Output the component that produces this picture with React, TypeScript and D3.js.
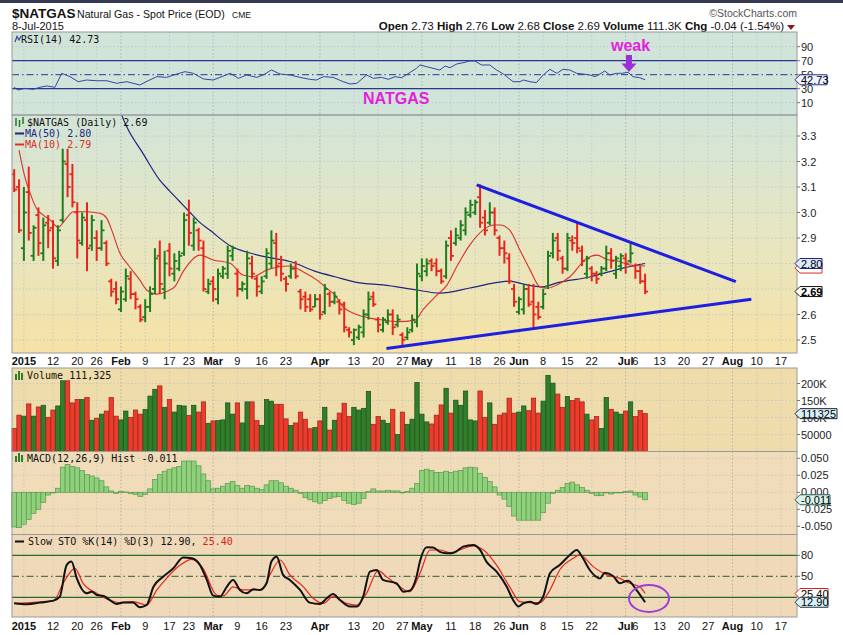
import React from 'react';
import * as d3 from 'd3';

// ---------- DATA ----------
const dates = [
  'Dec 30','Dec 31',
  'Jan 2','Jan 5','Jan 6','Jan 7','Jan 8','Jan 9','Jan 12','Jan 13','Jan 14','Jan 15','Jan 16','Jan 20','Jan 21','Jan 22','Jan 23','Jan 26','Jan 27','Jan 28','Jan 29','Jan 30',
  'Feb 2','Feb 3','Feb 4','Feb 5','Feb 6','Feb 9','Feb 10','Feb 11','Feb 12','Feb 13','Feb 17','Feb 18','Feb 19','Feb 20','Feb 23','Feb 24','Feb 25','Feb 26','Feb 27',
  'Mar 2','Mar 3','Mar 4','Mar 5','Mar 6','Mar 9','Mar 10','Mar 11','Mar 12','Mar 13','Mar 16','Mar 17','Mar 18','Mar 19','Mar 20','Mar 23','Mar 24','Mar 25','Mar 26','Mar 27','Mar 30','Mar 31',
  'Apr 1','Apr 2','Apr 6','Apr 7','Apr 8','Apr 9','Apr 10','Apr 13','Apr 14','Apr 15','Apr 16','Apr 17','Apr 20','Apr 21','Apr 22','Apr 23','Apr 24','Apr 27','Apr 28','Apr 29','Apr 30',
  'May 1','May 4','May 5','May 6','May 7','May 8','May 11','May 12','May 13','May 14','May 15','May 18','May 19','May 20','May 21','May 22','May 26','May 27','May 28','May 29',
  'Jun 1','Jun 2','Jun 3','Jun 4','Jun 5','Jun 8','Jun 9','Jun 10','Jun 11','Jun 12','Jun 15','Jun 16','Jun 17','Jun 18','Jun 19','Jun 22','Jun 23','Jun 24','Jun 25','Jun 26','Jun 29','Jun 30',
  'Jul 1','Jul 2','Jul 6','Jul 7','Jul 8'
];
const FIRST_INDEX = -2; // Dec 30 sits two sessions before Jan 2 (index 0)

const opens = [3.15,3.10,2.86,3.08,2.83,2.99,2.84,2.96,2.94,2.81,2.97,3.19,3.15,3.00,2.88,2.97,2.87,2.90,2.86,2.88,2.73,2.70,
  2.62,2.66,2.74,2.68,2.63,2.59,2.63,2.70,2.83,2.70,2.85,2.76,2.78,2.84,2.99,2.87,2.93,2.86,2.69,
  2.73,2.66,2.75,2.76,2.83,2.76,2.70,2.70,2.80,2.74,2.69,2.75,2.80,2.88,2.80,2.74,2.75,2.78,2.69,2.67,2.66,2.63,
  2.66,2.61,2.68,2.65,2.65,2.64,2.54,2.50,2.51,2.53,2.60,2.67,2.58,2.54,2.57,2.60,2.56,2.52,2.51,2.54,2.57,
  2.75,2.77,2.81,2.80,2.77,2.75,2.90,2.88,2.90,2.93,2.99,3.00,3.06,2.98,2.96,3.00,2.90,2.86,2.82,2.70,
  2.61,2.62,2.70,2.65,2.63,2.63,2.71,2.84,2.90,2.82,2.78,2.89,2.90,2.85,2.76,2.78,2.76,2.76,2.78,2.84,2.76,2.79,
  2.82,2.81,2.79,2.77,2.73];
const highs = [3.17,3.13,3.10,3.18,2.95,3.02,2.98,2.99,2.97,2.95,3.25,3.25,3.19,3.04,3.00,3.04,2.99,2.93,2.97,2.89,2.74,2.73,
  2.71,2.78,2.77,2.69,2.64,2.66,2.71,2.86,2.89,2.85,2.88,2.84,2.85,3.00,3.05,2.98,2.94,2.89,2.74,
  2.75,2.78,2.79,2.87,2.87,2.78,2.73,2.85,2.83,2.75,2.75,2.86,2.93,2.92,2.83,2.75,2.80,2.81,2.70,2.69,2.68,2.68,
  2.68,2.72,2.69,2.69,2.66,2.65,2.55,2.545,2.56,2.62,2.69,2.69,2.59,2.59,2.62,2.62,2.60,2.53,2.55,2.60,2.80,
  2.82,2.82,2.82,2.82,2.78,2.89,2.93,2.94,2.97,3.02,3.05,3.05,3.11,3.01,3.04,3.02,2.91,2.89,2.84,2.72,
  2.67,2.72,2.72,2.72,2.65,2.70,2.85,2.92,2.92,2.83,2.92,2.91,2.96,2.87,2.83,2.79,2.77,2.79,2.87,2.86,2.83,2.84,
  2.84,2.88,2.80,2.79,2.76];
const lows = [3.08,2.92,2.81,2.89,2.81,2.83,2.81,2.86,2.78,2.79,2.96,3.06,3.02,2.82,2.87,2.77,2.85,2.81,2.85,2.79,2.67,2.64,
  2.61,2.65,2.66,2.62,2.57,2.57,2.61,2.68,2.68,2.66,2.75,2.73,2.77,2.83,2.87,2.85,2.85,2.69,2.68,
  2.65,2.64,2.74,2.74,2.81,2.67,2.69,2.66,2.74,2.67,2.68,2.74,2.78,2.75,2.73,2.69,2.74,2.74,2.62,2.61,2.61,2.63,
  2.58,2.60,2.63,2.64,2.60,2.53,2.51,2.48,2.50,2.51,2.58,2.63,2.53,2.53,2.56,2.52,2.55,2.48,2.50,2.53,2.55,
  2.73,2.75,2.77,2.75,2.72,2.74,2.81,2.87,2.89,2.91,2.98,2.99,2.94,2.91,2.95,2.91,2.83,2.80,2.72,2.63,
  2.60,2.60,2.63,2.55,2.58,2.62,2.70,2.82,2.81,2.76,2.77,2.85,2.84,2.79,2.74,2.73,2.72,2.75,2.77,2.78,2.74,2.77,
  2.76,2.80,2.74,2.72,2.68];
const closes = [3.09,2.93,3.00,2.92,2.94,2.88,2.95,2.93,2.82,2.93,3.20,3.10,3.04,2.89,2.98,2.86,2.97,2.86,2.93,2.80,2.69,2.66,
  2.69,2.75,2.68,2.66,2.58,2.63,2.68,2.82,2.72,2.80,2.78,2.81,2.83,2.97,2.92,2.96,2.89,2.70,2.72,
  2.70,2.76,2.78,2.85,2.86,2.70,2.72,2.82,2.76,2.71,2.73,2.84,2.89,2.79,2.76,2.72,2.78,2.75,2.66,2.63,2.62,2.66,
  2.60,2.70,2.65,2.67,2.62,2.55,2.53,2.54,2.55,2.60,2.66,2.64,2.56,2.58,2.60,2.55,2.58,2.50,2.53,2.58,2.76,
  2.79,2.80,2.79,2.77,2.73,2.87,2.83,2.91,2.95,3.00,3.03,3.04,2.96,2.93,3.00,2.93,2.86,2.84,2.73,2.65,
  2.66,2.70,2.64,2.60,2.59,2.68,2.83,2.89,2.85,2.78,2.90,2.88,2.86,2.81,2.82,2.76,2.74,2.78,2.84,2.81,2.82,2.83,
  2.80,2.84,2.77,2.73,2.69];
const volumes = [68,107,104,140,104,131,136,100,122,134,208,208,143,153,153,159,92,98,110,119,159,104,
  93,119,100,122,110,124,163,183,193,130,153,116,136,134,106,136,116,146,83,
  90,91,93,143,110,143,84,146,146,91,77,153,148,139,139,96,77,84,116,95,67,71,
  90,130,63,92,113,142,103,130,122,127,177,80,103,92,83,124,50,116,80,95,203,
  110,87,81,107,137,186,113,151,136,178,93,90,178,100,143,80,107,113,157,113,
  116,134,120,157,113,148,224,201,169,130,162,150,156,146,110,93,103,68,159,124,116,110,
  119,146,103,121,111.325].map(v => v * 1000);
const macdHist = [-0.051,-0.052,-0.047,-0.040,-0.031,-0.025,-0.015,-0.004,-0.0005,0.006,0.037,0.041,0.038,0.036,0.032,0.026,0.024,0.021,0.017,0.008,0.002,-0.0015,
  0.0015,0.0005,-0.0015,-0.003,-0.006,-0.003,0.005,0.019,0.026,0.031,0.034,0.036,0.038,0.046,0.046,0.046,0.039,0.027,0.017,
  0.005,0.006,0.009,0.013,0.016,0.010,0.006,0.010,0.009,0.006,0.004,0.011,0.017,0.017,0.014,0.009,0.006,0.003,-0.0015,-0.008,-0.011,-0.014,
  -0.016,-0.012,-0.009,-0.007,-0.006,-0.012,-0.016,-0.018,-0.016,-0.009,0.001,0.005,0.002,0.002,0.003,0.002,0.002,0,0.001,0.006,0.013,
  0.032,0.034,0.032,0.029,0.029,0.031,0.029,0.031,0.032,0.036,0.037,0.036,0.028,0.022,0.016,0.008,-0.004,-0.010,-0.021,-0.035,
  -0.041,-0.041,-0.041,-0.041,-0.041,-0.030,-0.016,-0.0015,0.003,0.007,0.013,0.015,0.011,0.007,0.003,-0.0015,-0.005,-0.005,-0.0005,-0.0025,-0.0005,0,
  0.001,0.002,-0.004,-0.007,-0.011];

// indicator lines: [session index, value]
const rsiPts = [[-2,32],[-1.2,28.1],[0.2,30.5],[1.9,29.1],[3.3,32],[4.7,33.9],[6.4,32],[7.8,52],[9.5,47.2],[11.2,40],[12.9,42.4],[15,41.4],[17.1,41.4],[19.1,37.7],[21.2,40],[23.9,35.3],[25.6,41.4],[27.4,47.2],[29.4,46.2],[31.5,51],[33.2,54.3],[34.9,52],[37,43.9],[39,42.4],[40.4,46.2],[42.5,52],[44.2,44.8],[45.9,49.6],[48,46.2],[49.3,49.6],[51,56.7],[52.8,51],[54.8,49.6],[56.9,46.2],[58.9,43.4],[60.3,42.4],[61.7,47.2],[63.7,46.2],[65.8,40],[67.2,36.7],[68.6,37.7],[70.6,49.6],[72,44.8],[73.7,46.2],[75.1,43.4],[76.5,47.2],[77.8,45.7],[79.5,52.9],[80.9,59.1],[81.6,63.9],[83,61.4],[84.3,59.1],[85.7,56.7],[86.8,62.4],[87.8,60],[89.2,65.3],[90.5,67.1],[91.9,69.6],[92.9,69.6],[94.3,63.9],[96,63.9],[97.4,56.7],[98.8,51],[99.5,47.2],[100.8,40],[102.2,40],[102.9,42.4],[104.3,40],[105.6,38.6],[107,49.6],[108.4,57.7],[109.8,52],[111.1,57.7],[112.5,56.7],[113.9,52],[115.2,51],[116.6,49.6],[117.7,47.2],[118.7,51],[119.7,55.3],[120.7,49.6],[122.1,52],[123.2,52],[124.5,53.4],[125.5,47.2],[126.9,45.7],[128,42.73]];
const ma50Pts = [[19,3.45],[20.2,3.38],[21.2,3.336],[24.5,3.233],[28,3.127],[30,3.085],[32,3.045],[34,3.005],[36,2.965],[38.3,2.931],[42.5,2.870],[46.6,2.841],[50.1,2.825],[54.8,2.808],[60.4,2.767],[64.1,2.748],[69.2,2.724],[74,2.716],[81,2.696],[85.7,2.684],[91.9,2.704],[97,2.724],[100.1,2.731],[102.8,2.720],[106.9,2.708],[109.8,2.724],[116.6,2.747],[123.4,2.782],[128,2.80]];
const ma10Pts = [[-1,3.245],[0.2,3.14],[1.3,3.075],[2.6,3.016],[4,2.99],[5.4,2.971],[7.1,2.942],[8.5,2.971],[10.2,3.003],[12.9,3.003],[15.7,2.997],[17.1,2.977],[18.1,2.931],[19.8,2.840],[21.5,2.794],[23.9,2.735],[25.3,2.696],[27.4,2.680],[29.4,2.690],[31.1,2.709],[32.8,2.768],[36.3,2.833],[39,2.814],[42.5,2.801],[45.1,2.755],[47.2,2.748],[50.1,2.775],[52.1,2.785],[54.8,2.790],[57.5,2.768],[60.4,2.735],[62.4,2.703],[64.1,2.676],[65.7,2.631],[69.9,2.592],[74,2.578],[76.9,2.572],[80.6,2.578],[82.2,2.618],[85.1,2.676],[87.2,2.716],[89.2,2.788],[91.9,2.873],[94.6,2.931],[97,2.951],[98.1,2.951],[100.1,2.931],[102.2,2.853],[104.3,2.775],[106.3,2.709],[107.8,2.703],[109.8,2.716],[112.5,2.748],[116,2.820],[118.1,2.833],[120.1,2.816],[122.2,2.811],[124.9,2.794],[128,2.79]];
const stoKPts = [[-2,11.4],[0.6,10],[3.3,12.4],[6.1,15.2],[7.4,21],[8.8,66],[9.8,71],[10.9,47],[12.9,25.7],[14,28],[15,23.3],[16.4,22],[17.7,16],[19.1,10.5],[20.5,12.4],[22.5,12.4],[23.9,5.7],[25.3,9],[26.7,35],[28.7,49.5],[30.8,61.4],[32.8,77],[34.6,75.7],[36.3,66],[37.7,44.8],[39,22.4],[40.4,21],[41.8,35],[43.1,44.8],[44.5,30.5],[45.9,25.7],[47.3,31.4],[48.6,30.5],[50,40],[51,71],[52.1,78],[53.4,52],[54.8,44.8],[56.9,30.5],[58.9,12.4],[61,10.5],[62.4,18.6],[63.7,24.8],[65.1,16.2],[67.2,6.7],[68.6,6.7],[69.9,21],[71.3,56.7],[72.7,59],[74,44.8],[76.8,40],[78.2,28],[79.5,29.5],[80.9,49.5],[81.6,71],[83,91.4],[84.3,91],[85.7,85],[87.1,83],[88.1,83],[89.2,86],[90.5,92.4],[92.6,94.8],[94,87.6],[95.3,71],[97.4,56.7],[99.5,35],[100.8,16.2],[101.9,6.7],[102.9,11.4],[104.3,13.8],[105.6,10.5],[107,21],[108.4,54.3],[110.4,66],[112.5,80.5],[113.9,87.6],[115.2,75.7],[116.6,59],[118.7,47],[119.7,55.2],[121.4,50.5],[122.8,40],[124.5,43.8],[126.2,30.5],[128,12.9]];
const stoDPts = [[-2,11.4],[6.1,15.2],[8.1,40],[10.5,61.4],[12.2,40],[15,25.7],[17.7,16],[19.8,12.4],[22.5,13.8],[25.3,9],[27.4,30.5],[29.4,47],[32.2,66],[34.6,74.3],[36.9,61.4],[39.7,23.3],[41.1,22],[43.1,35],[45.2,30.5],[47.3,30.5],[49,30.5],[50.7,52],[52.8,73.3],[54.8,52],[57.6,35],[59.6,18.6],[61.7,11.4],[63.7,21],[66.5,11.4],[68.6,9],[70.6,25.7],[73,58],[74.7,49.5],[77.5,35],[79.5,28],[81.6,54],[83.7,87.6],[85.7,87.6],[87.8,83.8],[89.8,87.6],[92.6,93.3],[94.7,87.6],[97.4,66],[100.1,35],[102.2,13.8],[104.3,12.4],[106.3,12.4],[108.4,30.5],[110.4,59],[113.2,75.7],[114.5,80.5],[117.3,63.8],[120.1,52],[122.8,47],[124.8,40],[126.9,35],[128,25.4]];

const trendUpper = [[93.3,3.108],[146.7,2.729]];
const trendLower = [[74.7,2.467],[149.9,2.660]];

const xTickIdx = [0,6,11,15,20,25,30,34,39,44,49,54,61,68,73,78,82,88,93,98,102,107,112,117,124,126,131,136,141,146,151,156];
const xTickLabels = ['2015','12','20','26','Feb','9','17','23','Mar','9','16','23','Apr','13','20','27','May','11','18','26','Jun','8','15','22','Jul','6','13','20','27','Aug','10','17'];

const priceTicks = [2.5,2.6,2.7,2.8,2.9,3.0,3.1,3.2,3.3];
const priceTickLabels = ['2.5','2.6','','','2.9','3.0','3.1','3.2','3.3'];
const rsiTicks = [90,70,50,30,10];
const volTicks = [50000,100000,150000,200000];
const volTickLabels = ['50000','100K','150K','200K'];
const macdTicks = [0.05,0.025,0,-0.025,-0.05];
const macdTickLabels = ['0.050','0.025','0.000','-0.025','-0.050'];
const stoTicks = [80,50];

// ---------- LAYOUT ----------
const L = 12, R = 797;
const GREEN = '#1e7d1e', RED = '#e4261c';
const SANS = '"Liberation Sans", Arial, sans-serif';
const MONO = '"DejaVu Sans Mono", monospace';

const P = {
  rsi: [32, 115], price: [115, 353], vol: [368, 451.5], macd: [451.5, 534.5], sto: [534.5, 617]
};

function Tag({ y, text, fill, stroke, color = '#000', bold = false, w = 30 }:
  { y: number; text: string; fill: string; stroke: string; color?: string; bold?: boolean; w?: number }) {
  const x0 = 795, x1 = 800;
  const d = `M${x0},${y} L${x1},${y - 5} L${x1 + w},${y - 5} L${x1 + w},${y + 5} L${x1},${y + 5} Z`;
  return (
    <g>
      <path d={d} fill={fill} stroke={stroke} strokeWidth={1} />
      {text ? <text x={x1 + 1} y={y + 4} fontSize={11} fontFamily={SANS} fill={color} fontWeight={bold ? 'bold' : 'normal'}>{text}</text> : null}
    </g>
  );
}

export default function App() {
  const xs = d3.scaleLinear().domain([-2.45, 159.3]).range([L, R]);
  const yP = d3.scaleLinear().domain([2.5, 3.3]).range([340, 136]);
  const yR = d3.scaleLinear().domain([0, 100]).range([109.7, 39.7]);
  const yV = d3.scaleLinear().domain([0, 200000]).range([451.5, 383.5]);
  const yM = d3.scaleLinear().domain([-0.05, 0.05]).range([526.3, 458.3]);
  const yS = d3.scaleLinear().domain([0, 100]).range([611.3, 541.3]);

  const lineOf = (ys: d3.ScaleLinear<number, number>, curve = d3.curveLinear) =>
    d3.line<number[]>().x(d => xs(d[0])).y(d => ys(d[1])).curve(curve);

  const idx = (k: number) => k + FIRST_INDEX;
  const isUp = (k: number) => k > 0 && closes[k] >= closes[k - 1];

  const vGrid = (top: number, bottom: number, key: string) =>
    xTickIdx.map((t, j) => {
      const month = isNaN(+xTickLabels[j]);
      return <line key={key + j} x1={xs(t)} x2={xs(t)} y1={top} y2={bottom}
        stroke={month ? '#a8a8a8' : '#c4c4c4'} strokeWidth={0.8} strokeDasharray="1.5,2" />;
    });

  const xLabels = (y: number, key: string) =>
    xTickIdx.map((t, j) => {
      const lab = xTickLabels[j];
      const bold = isNaN(+lab) || lab === '2015';
      return <text key={key + j} x={xs(t)} y={y} textAnchor="middle" fontFamily={SANS}
        fontSize={11} fontWeight={bold ? 'bold' : 'normal'} fill="#111">{lab}</text>;
    });

  const axisLabel = (y: number, t: string, key: string) => (
    <g key={key}>
      <line x1={R} x2={R + 3} y1={y} y2={y} stroke="#555" strokeWidth={0.8} />
      <text x={R + 4} y={y + 4} fontSize={11} fontFamily={SANS} fill="#222">{t}</text>
    </g>
  );

  const hdr: [string, boolean][] = [
    ['Open', true], [' 2.73 ', false], ['High', true], [' 2.76 ', false], ['Low', true], [' 2.68 ', false],
    ['Close', true], [' 2.69 ', false], ['Volume', true], [' 111.3K ', false], ['Chg', true], [' -0.04 (-1.54%)', false]
  ];

  return (
    <div style={{ position: 'absolute', left: 0, top: 0 }}>
      <svg width={843} height={635} viewBox="0 0 843 635" style={{ display: 'block', background: '#fff' }}>
        <defs>
          <linearGradient id="pg" x1="0" y1="0" x2="0" y2="1">
            <stop offset="0" stopColor="#d2e5d8" />
            <stop offset="0.5" stopColor="#e6e6c2" />
            <stop offset="1" stopColor="#f6e2a6" />
          </linearGradient>
          <clipPath id="clipPrice"><rect x={L} y={P.price[0]} width={R - L} height={P.price[1] - P.price[0]} /></clipPath>
        </defs>

        {/* top dark band */}
        <rect x={0} y={0} width={843} height={3} fill="#353a52" />

        {/* header */}
        <text x={12} y={18} fontFamily={SANS} fontSize={13.5} fontWeight="bold" fill="#111">$NATGAS</text>
        <text x={77} y={18} fontFamily={SANS} fontSize={10.6} fill="#111">Natural Gas - Spot Price (EOD)</text>
        <text x={232} y={18} fontFamily={SANS} fontSize={8.5} fill="#111">CME</text>
        <text x={12} y={29.5} fontFamily={SANS} fontSize={11} fill="#111">8-Jul-2015</text>
        <text x={797} y={17} textAnchor="end" fontFamily={SANS} fontSize={10.5} fill="#555">©StockCharts.com</text>
        <text x={784} y={29.5} textAnchor="end" fontFamily={SANS} fontSize={11.5} fill="#111" xmlSpace="preserve">
          {hdr.map(([t, b], j) => <tspan key={j} fontWeight={b ? 'bold' : 'normal'}>{t}</tspan>)}
        </text>
        <polygon points="787,25 795,25 791,30" fill="#8b1a1a" />

        {/* panel backgrounds */}
        <rect x={L} y={P.rsi[0]} width={R - L} height={P.rsi[1] - P.rsi[0]} fill="#d0e4d9" />
        <rect x={L} y={P.price[0]} width={R - L} height={P.price[1] - P.price[0]} fill="url(#pg)" />
        <rect x={L} y={P.vol[0]} width={R - L} height={P.vol[1] - P.vol[0]} fill="#eedcab" />
        <rect x={L} y={P.macd[0]} width={R - L} height={P.macd[1] - P.macd[0]} fill="#f0dcb8" />
        <rect x={L} y={P.sto[0]} width={R - L} height={P.sto[1] - P.sto[0]} fill="#efd9b8" />

        {/* vertical grids */}
        {vGrid(P.rsi[0], P.rsi[1], 'gr')}
        {vGrid(P.price[0], P.price[1], 'gp')}
        {vGrid(P.vol[0], P.vol[1], 'gv')}
        {vGrid(P.macd[0], P.macd[1], 'gm')}
        {vGrid(P.sto[0], P.sto[1], 'gs')}

        {/* horizontal grids */}
        {priceTicks.map((t, j) => <line key={'hp' + j} x1={L} x2={R} y1={yP(t)} y2={yP(t)} stroke="#c4c4c4" strokeWidth={0.8} strokeDasharray="1.5,2" />)}
        {[90, 10].map((t, j) => <line key={'hr' + j} x1={L} x2={R} y1={yR(t)} y2={yR(t)} stroke="#c4c4c4" strokeWidth={0.8} strokeDasharray="1.5,2" />)}
        {volTicks.map((t, j) => <line key={'hv' + j} x1={L} x2={R} y1={yV(t)} y2={yV(t)} stroke="#c4c4c4" strokeWidth={0.8} strokeDasharray="1.5,2" />)}
        {macdTicks.map((t, j) => <line key={'hm' + j} x1={L} x2={R} y1={yM(t)} y2={yM(t)} stroke="#c4c4c4" strokeWidth={0.8} strokeDasharray="1.5,2" />)}

        {/* RSI panel */}
        <line x1={L} x2={R} y1={yR(70)} y2={yR(70)} stroke="#2a3590" strokeWidth={1.2} />
        <line x1={L} x2={R} y1={yR(30)} y2={yR(30)} stroke="#2a3590" strokeWidth={1.2} />
        <line x1={L} x2={R} y1={yR(50)} y2={yR(50)} stroke="#2a3590" strokeWidth={1} strokeDasharray="7,3,1.5,3" />
        <path d={lineOf(yR)(rsiPts) || ''} fill="none" stroke="#3445a8" strokeWidth={1} />
        <polyline points="15,42 17,36.5 19,40 21,36" fill="none" stroke="#3445a8" strokeWidth={1.2} />
        <text x={21} y={43} fontFamily={MONO} fontSize={10} fill="#111">RSI(14) 42.73</text>
        <text x={611} y={51} fontFamily={SANS} fontSize={16} fontWeight="bold" fill="#e31fdc">weak</text>
        <rect x={626} y={55} width={6} height={9} fill="#9b30d8" />
        <polygon points="621.5,63.5 636.5,63.5 629,72" fill="#9b30d8" />
        <text x={363} y={103.5} fontFamily={SANS} fontSize={16} fontWeight="bold" fill="#e31fdc">NATGAS</text>

        {/* Price panel */}
        <g clipPath="url(#clipPrice)">
          <path d={lineOf(yP, d3.curveMonotoneX)(ma50Pts) || ''} fill="none" stroke="#1d2580" strokeWidth={1.2} />
          <path d={lineOf(yP, d3.curveMonotoneX)(ma10Pts) || ''} fill="none" stroke="#d8302a" strokeWidth={1.1} />
          {closes.map((c, k) => {
            const x = xs(idx(k));
            const col = isUp(k) ? GREEN : RED;
            return (
              <g key={'b' + k} stroke={col}>
                <line x1={x} x2={x} y1={yP(highs[k])} y2={yP(lows[k])} strokeWidth={2} />
                <line x1={x - 3} x2={x} y1={yP(opens[k])} y2={yP(opens[k])} strokeWidth={1.8} />
                <line x1={x} x2={x + 3} y1={yP(c)} y2={yP(c)} strokeWidth={1.8} />
              </g>
            );
          })}
          <path d={lineOf(yP)(trendUpper) || ''} stroke="#1f1fe0" strokeWidth={3} fill="none" />
          <path d={lineOf(yP)(trendLower) || ''} stroke="#1f1fe0" strokeWidth={3} fill="none" />
        </g>
        <g>
          <line x1={16} x2={16} y1={118} y2={126} stroke={GREEN} strokeWidth={1.5} />
          <line x1={19.5} x2={19.5} y1={120} y2={127} stroke={GREEN} strokeWidth={1.5} />
          <line x1={23} x2={23} y1={117} y2={124} stroke={GREEN} strokeWidth={1.5} />
          <text x={27} y={126} fontFamily={MONO} fontSize={10} fill="#111">$NATGAS (Daily) 2.69</text>
          <line x1={15} x2={24} y1={133.5} y2={133.5} stroke="#1d2580" strokeWidth={2} />
          <text x={25} y={137} fontFamily={MONO} fontSize={10} fill="#1d2580">MA(50) 2.80</text>
          <line x1={15} x2={24} y1={144.5} y2={144.5} stroke="#d8302a" strokeWidth={2} />
          <text x={25} y={148} fontFamily={MONO} fontSize={10} fill="#d8302a">MA(10) 2.79</text>
        </g>

        {/* middle x-axis labels */}
        {xLabels(365, 'xm')}

        {/* Volume panel */}
        {volumes.map((v, k) => {
          const x = xs(idx(k));
          const up = isUp(k);
          return <rect key={'v' + k} x={x - 2.2} y={yV(v)} width={4.4} height={yV(0) - yV(v)}
            fill={up ? '#2f7f2a' : '#ef3b2c'} stroke={up ? '#1b4f18' : '#9a2316'} strokeWidth={0.7} />;
        })}
        <g fill="#2f7f2a">
          <rect x={15} y={374} width={2} height={6} /><rect x={18} y={371} width={2} height={9} /><rect x={21} y={373} width={2} height={7} />
        </g>
        <text x={27} y={379} fontFamily={MONO} fontSize={10} fill="#111">Volume 111,325</text>

        {/* MACD panel */}
        {macdHist.map((v, k) => {
          const x = xs(idx(k));
          const y0 = yM(0), y1 = yM(v);
          return <rect key={'m' + k} x={x - 2.43} y={Math.min(y0, y1)} width={4.86} height={Math.max(0.6, Math.abs(y1 - y0))}
            fill="#8fd07a" stroke="#5b9850" strokeWidth={0.7} />;
        })}
        <g fill="#2f7f2a">
          <rect x={15} y={456} width={2} height={6} /><rect x={18} y={453} width={2} height={9} /><rect x={21} y={455} width={2} height={7} />
        </g>
        <text x={27} y={461.5} fontFamily={MONO} fontSize={10} fill="#111">MACD(12,26,9) Hist -0.011</text>

        {/* STO panel */}
        <line x1={L} x2={R} y1={yS(80)} y2={yS(80)} stroke="#2b6a2b" strokeWidth={1.2} />
        <line x1={L} x2={R} y1={yS(20)} y2={yS(20)} stroke="#2b6a2b" strokeWidth={1.2} />
        <line x1={L} x2={R} y1={yS(50)} y2={yS(50)} stroke="#2b5a2b" strokeWidth={1} strokeDasharray="7,3,1.5,3" />
        <path d={lineOf(yS, d3.curveMonotoneX)(stoDPts) || ''} fill="none" stroke="#e4261c" strokeWidth={1.2} />
        <path d={lineOf(yS, d3.curveMonotoneX)(stoKPts) || ''} fill="none" stroke="#111" strokeWidth={2} />
        <line x1={15} x2={24} y1={541.5} y2={541.5} stroke="#111" strokeWidth={2} />
        <text x={28} y={545} fontFamily={MONO} fontSize={10} fill="#111">Slow STO %K(14) %D(3) 12.90, <tspan fill="#d8201a">25.40</tspan></text>
        <ellipse cx={649} cy={598.5} rx={20} ry={13.5} fill="none" stroke="#9b3fd6" strokeWidth={2} />

        {/* bottom x-axis labels */}
        {xLabels(630, 'xb')}

        {/* panel borders */}
        {[P.rsi, P.price, P.vol, P.macd, P.sto].map((p, j) =>
          <rect key={'pb' + j} x={L} y={p[0]} width={R - L} height={p[1] - p[0]} fill="none" stroke="#9a9a9a" strokeWidth={1} />)}

        {/* right axes */}
        {rsiTicks.map((t, j) => axisLabel(yR(t), String(t), 'ar' + j))}
        {priceTicks.map((t, j) => priceTickLabels[j] ? axisLabel(yP(t), priceTickLabels[j], 'ap' + j) : null)}
        {volTicks.map((t, j) => axisLabel(yV(t), volTickLabels[j], 'av' + j))}
        {macdTicks.map((t, j) => axisLabel(yM(t), macdTickLabels[j], 'am' + j))}
        {stoTicks.map((t, j) => axisLabel(yS(t), String(t), 'as' + j))}

        {/* value tags */}
        <Tag y={yR(42.73)} text="42.73" fill="#eef3ff" stroke="#26328a" w={27} />
        <Tag y={yP(2.79) + 2} text="" fill="#fff" stroke="#d8302a" w={22} />
        <Tag y={yP(2.80)} text="2.80" fill="#dbe8ff" stroke="#1d2580" w={22} />
        <Tag y={yP(2.69)} text="2.69" fill="#ffffff" stroke="#111" bold w={22} />
        <Tag y={yV(111325)} text="111325" fill="#d9f1fb" stroke="#223" w={37} />
        <Tag y={yM(-0.011)} text="-0.011" fill="#daf3ea" stroke="#2a5a5a" w={30} />
        <Tag y={yS(25.4)} text="25.40" fill="#fff" stroke="#d8201a" w={28} />
        <Tag y={yS(12.9)} text="12.90" fill="#d9f1fb" stroke="#1a3a4a" w={28} />
      </svg>
    </div>
  );
}
